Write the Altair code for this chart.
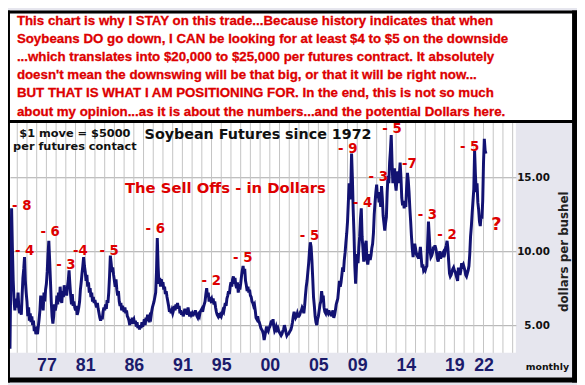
import altair as alt
import pandas as pd

# ---------------- data ----------------
first_year = 1973
first_month = 4  # series starts April 1973
price_rows = [
    [3.4, 8.0, 12.9, 10.2, 8.0, 6.7, 6.0, 6.8, 6.2],                    # 1973 (Apr-Dec)
    [6.4, 7.2, 6.1, 5.8, 6.3, 5.7, 7.0, 8.2, 8.8, 9.6, 8.0, 7.2],       # 1974
    [6.6, 5.6, 6.2, 5.3, 5.8, 5.2, 5.6, 5.0, 5.3, 4.6, 4.9, 4.4],       # 1975
    [4.6, 4.4, 4.9, 5.4, 6.0, 7.0, 6.2, 6.8, 6.0, 7.2, 6.6, 7.4],       # 1976
    [7.8, 8.6, 9.8, 10.7, 9.4, 8.0, 6.6, 5.6, 5.1, 5.6, 6.4, 6.0],      # 1977
    [6.3, 7.0, 6.4, 7.2, 6.6, 7.6, 6.8, 6.5, 7.3, 6.9, 7.7, 7.2],       # 1978
    [7.4, 7.0, 7.6, 8.0, 8.7, 7.8, 7.0, 6.4, 7.1, 6.3, 6.6, 6.2],       # 1979
    [6.0, 6.3, 5.7, 5.9, 6.2, 6.6, 7.4, 7.9, 8.5, 9.0, 9.6, 9.0],       # 1980
    [8.6, 8.0, 8.4, 7.6, 7.9, 7.2, 7.5, 6.9, 7.2, 6.6, 6.9, 6.5],       # 1981
    [6.7, 6.4, 6.2, 6.5, 6.1, 5.8, 5.5, 5.3, 5.6, 5.4, 5.9, 6.2],       # 1982
    [6.0, 6.4, 6.1, 6.7, 6.5, 7.2, 8.3, 9.7, 9.2, 8.6, 8.9, 8.4],       # 1983
    [8.0, 7.6, 8.1, 7.4, 7.0, 7.3, 6.6, 6.3, 6.5, 6.0, 6.3, 6.1],       # 1984
    [5.9, 6.2, 5.8, 6.0, 5.6, 5.5, 5.3, 5.0, 5.4, 5.1, 5.5, 5.3],       # 1985
    [5.4, 5.1, 5.3, 4.9, 5.2, 4.8, 5.0, 4.7, 5.0, 4.8, 5.2, 4.9],       # 1986
    [5.1, 5.4, 5.0, 5.5, 5.3, 5.7, 5.4, 5.2, 5.6, 5.5, 5.9, 6.2],       # 1987
    [6.4, 6.6, 6.9, 7.2, 8.6, 10.9, 9.0, 7.8, 8.2, 7.6, 8.1, 7.7],      # 1988
    [7.9, 7.4, 7.6, 7.1, 7.3, 6.9, 6.6, 6.3, 5.9, 6.1, 5.8, 6.0],       # 1989
    [5.8, 6.0, 6.3, 6.0, 6.4, 6.2, 6.5, 6.1, 6.3, 5.8, 6.0, 5.7],       # 1990
    [5.9, 5.6, 5.8, 6.1, 5.8, 6.0, 5.7, 6.2, 5.8, 5.6, 5.9, 5.7],       # 1991
    [5.8, 5.6, 5.9, 5.7, 6.0, 5.8, 5.6, 5.5, 5.7, 5.6, 5.9, 6.0],       # 1992
    [6.1, 5.9, 6.2, 6.4, 6.6, 7.1, 7.5, 6.9, 7.2, 6.6, 6.9, 6.7],       # 1993
    [6.8, 6.5, 6.8, 6.4, 6.6, 6.2, 5.9, 5.7, 5.6, 5.8, 5.5, 5.7],       # 1994
    [5.6, 5.8, 6.0, 5.9, 6.2, 6.5, 6.3, 6.8, 7.0, 7.3, 7.1, 7.6],       # 1995
    [7.9, 7.6, 8.1, 8.3, 7.8, 8.2, 7.7, 7.5, 7.9, 7.2, 7.6, 7.4],       # 1996
    [7.8, 8.3, 8.7, 9.0, 8.5, 8.8, 8.0, 7.7, 7.3, 7.6, 7.2, 7.4],       # 1997
    [7.0, 6.9, 6.6, 6.5, 6.3, 6.4, 6.0, 5.5, 5.4, 5.6, 5.3, 5.2],       # 1998
    [5.0, 4.8, 4.7, 4.6, 4.4, 4.0, 4.3, 4.6, 4.9, 4.7, 4.6, 4.8],       # 1999
    [4.9, 5.1, 5.3, 5.0, 5.4, 4.9, 4.6, 4.7, 4.9, 4.7, 4.8, 4.6],       # 2000
    [4.5, 4.4, 4.3, 4.4, 4.6, 4.7, 5.0, 4.8, 4.5, 4.3, 4.4, 4.4],       # 2001
    [4.5, 4.6, 4.7, 4.9, 5.2, 5.6, 5.9, 5.7, 5.5, 5.6, 5.8, 5.6],       # 2002
    [5.6, 5.7, 5.9, 6.0, 6.2, 6.1, 5.8, 6.3, 7.0, 7.6, 8.0, 8.6],       # 2003
    [9.2, 10.0, 10.6, 10.3, 9.4, 8.2, 6.9, 6.3, 5.6, 5.2, 5.0, 5.4],    # 2004
    [5.6, 6.0, 6.4, 6.6, 7.3, 6.8, 7.0, 6.2, 5.9, 5.8, 6.1, 5.9],       # 2005
    [5.8, 6.0, 5.7, 5.9, 5.6, 5.8, 6.0, 5.5, 5.7, 6.0, 6.4, 6.6],       # 2006
    [6.8, 7.4, 8.0, 7.6, 7.9, 8.4, 8.9, 8.6, 9.4, 9.9, 10.6, 11.2],     # 2007
    [12.0, 13.3, 14.6, 13.5, 14.2, 16.6, 15.0, 12.8, 11.2, 9.0, 7.8, 8.9],  # 2008
    [9.8, 9.2, 10.3, 11.0, 12.2, 12.9, 11.0, 10.2, 9.3, 9.8, 10.4, 10.7],   # 2009
    [9.4, 9.1, 9.5, 9.8, 9.4, 9.7, 10.2, 10.5, 11.2, 12.5, 13.3, 14.0],     # 2010
    [14.5, 13.6, 14.0, 13.3, 13.6, 13.0, 14.4, 13.6, 12.4, 11.9, 11.4, 11.9],  # 2011
    [12.3, 14.0, 15.1, 14.6, 16.0, 16.8, 17.85, 16.0, 14.6, 15.2, 15.6, 14.6],  # 2012
    [14.1, 14.8, 15.4, 14.6, 15.2, 16.0, 15.0, 13.6, 13.1, 13.4, 12.9, 13.2],   # 2013
    [13.0, 14.3, 15.3, 14.8, 14.0, 12.9, 12.0, 11.0, 10.2, 9.6, 10.3, 10.5],    # 2014
    [10.2, 9.8, 9.7, 9.9, 9.5, 9.8, 10.3, 9.6, 8.9, 9.1, 8.7, 8.8],      # 2015
    [8.7, 8.9, 9.0, 10.6, 12.0, 11.0, 10.0, 9.6, 9.7, 9.9, 10.3, 10.1],  # 2016
    [10.4, 10.2, 9.9, 9.5, 9.3, 9.6, 10.0, 9.5, 9.7, 9.8, 9.9, 9.6],     # 2017
    [9.8, 10.2, 10.4, 10.7, 10.2, 9.3, 8.5, 8.3, 8.4, 8.6, 8.8, 8.9],    # 2018
    [8.7, 8.6, 8.4, 8.2, 8.0, 8.9, 8.6, 8.4, 8.7, 9.2, 9.0, 9.1],        # 2019
    [8.9, 8.7, 8.4, 8.3, 8.5, 8.7, 9.0, 9.8, 11.0, 11.7, 12.6, 13.4],    # 2020
    [14.2, 16.8, 15.2, 14.0, 14.6, 13.3, 12.8, 12.0, 11.7, 12.4, 12.2, 13.4],  # 2021
    [16.0, 17.6, 16.8, 16.6],                                            # 2022
]

tick_years = [1977, 1981, 1986, 1991, 1995, 2000, 2005, 2009, 2014, 2019, 2022]
grid_years = list(range(1974, 2026))
price_ticks = [5, 10, 15]

selloff_text = ["- 8", "- 4", "- 6", "- 3", "-4", "- 5", "- 6", "- 2", "- 5",
                "- 5", "- 9", "- 4", "- 3", "- 5", "-7", "- 3", "- 2", "- 5"]
selloff_t = [1973.46, 1973.76, 1976.39, 1978.01, 1979.73, 1982.46, 1987.21, 1992.98, 1996.21,
             2003.09, 2007.03, 2008.55, 2010.16, 2011.58, 2013.6, 2015.22, 2017.24, 2019.57]
selloff_p = [13.07, 10.0, 11.27, 9.07, 10.0, 10.0, 11.53, 8.0, 9.53,
             11.0, 16.93, 13.27, 15.0, 18.27, 15.87, 12.47, 11.07, 17.07]

chart_title = "Soybean Futures since 1972"
title_t, title_p = 1987.11, 17.87
note_lines = ["$1 move = $5000", "per futures contact"]
note_t = [1979.93, 1979.93]
note_p = [17.93, 17.07]
selloff_heading = "The Sell Offs - in Dollars"
heading_t, heading_p = 1985.09, 14.27
question_t, question_p = 2022.8, 11.8

paragraph = [
    "This chart is why I STAY on this trade...Because history indicates that when",
    "Soybeans DO go down, I CAN be looking for at least $4 to $5 on the downside",
    "...which translates into $20,000 to $25,000 per futures contract. It absolutely",
    "doesn't mean the downswing will be that big, or that it will be right now...",
    "BUT THAT IS WHAT I AM POSITIONING FOR. In the end, this is not so much",
    "about my opinion...as it is about the numbers...and the potential Dollars here.",
]

# ---------------- build table ----------------
t_vals, p_vals = [], []
for i, row in enumerate(price_rows):
    m0 = (first_month - 1) if i == 0 else 0
    for j, v in enumerate(row):
        t_vals.append(first_year + i + (m0 + j) / 12.0)
        p_vals.append(v)
df = pd.DataFrame({"t": t_vals, "p": p_vals})

RED = "#dd0000"
NAVY = "#121272"
W, H = 513, 233

x_scale = alt.Scale(domain=[1973.25, 2025.33], nice=False, zero=False)
y_scale = alt.Scale(domain=[3.13, 18.67], nice=False, zero=False)

x_axis = alt.Axis(values=tick_years, labelExpr="substring(toString(datum.value), 2)",
                  grid=False, ticks=False, domain=False, title="",
                  labelFont="Liberation Sans", labelFontSize=18, labelFontWeight="bold",
                  labelColor="#1b1b6b", labelPadding=4, labelOverlap=False)
y_axis = alt.Axis(orient="right", values=price_ticks, format=".2f", grid=True,
                  gridColor="#a9a9a9", gridWidth=1, ticks=False, domain=False,
                  labelFont="DejaVu Sans", labelFontSize=10.5, labelFontWeight="bold",
                  labelColor="#111111", labelAlign="right", labelBaseline="middle",
                  labelPadding=34, title="dollars per bushel", titleFont="DejaVu Sans",
                  titleFontSize=12, titleFontWeight="bold", titleColor="#222222",
                  titleAngle=270, titleX=48, titleY=130, titleAlign="center",
                  titleBaseline="middle")

X = alt.X("t:Q", scale=x_scale, axis=x_axis)
Y = alt.Y("p:Q", scale=y_scale, axis=y_axis)

vgrid = alt.Chart(pd.DataFrame({"t": grid_years})).mark_rule(
    color="#c4c4c4", strokeWidth=1).encode(x=X)

line = alt.Chart(df).mark_line(color=NAVY, strokeWidth=3, strokeJoin="miter").encode(x=X, y=Y)

sell = alt.Chart(pd.DataFrame({"t": selloff_t, "p": selloff_p, "s": selloff_text})).mark_text(
    align="left", baseline="middle", font="DejaVu Sans", fontSize=13.5,
    fontWeight="bold", color=RED).encode(x=X, y=Y, text="s:N")

title_layer = alt.Chart(pd.DataFrame({"t": [title_t], "p": [title_p], "s": [chart_title]})).mark_text(
    align="left", baseline="middle", font="DejaVu Sans", fontSize=14.5,
    fontWeight="bold", color="#111111").encode(x=X, y=Y, text="s:N")

note_layer = alt.Chart(pd.DataFrame({"t": note_t, "p": note_p, "s": note_lines})).mark_text(
    align="center", baseline="middle", font="DejaVu Sans", fontSize=11.5,
    fontWeight="bold", color="#111111").encode(x=X, y=Y, text="s:N")

heading_layer = alt.Chart(pd.DataFrame({"t": [heading_t], "p": [heading_p], "s": [selloff_heading]})).mark_text(
    align="left", baseline="middle", font="DejaVu Sans", fontSize=15,
    fontWeight="bold", color=RED).encode(x=X, y=Y, text="s:N")

question_layer = alt.Chart(pd.DataFrame({"t": [question_t], "p": [question_p], "s": ["?"]})).mark_text(
    align="left", baseline="middle", font="DejaVu Sans", fontSize=18,
    fontWeight="bold", color=RED).encode(x=X, y=Y, text="s:N")

one = pd.DataFrame({"a": [0]})


def block(x0, x1, y0, y1, color):
    return alt.Chart(one).mark_rect(color=color).encode(
        x=alt.value(x0), x2=alt.value(x1), y=alt.value(y0), y2=alt.value(y1))


frames = [
    block(0, 570, -111, -3, "white"),      # text box
    block(-2, 0, -114, 263, "black"),      # left border
    block(570, 575, -114, 263, "black"),   # right border
    block(-2, 575, -114, -111, "black"),   # top border
    block(-2, 575, -3, 0, "black"),        # separator
    block(-2, 575, 258, 263, "black"),     # bottom border
]

para_layer = alt.Chart(one).mark_text(
    align="left", baseline="alphabetic", font="Liberation Sans", fontSize=13.5,
    fontWeight="bold", color=RED, stroke=RED, strokeWidth=0.3, lineHeight=18.4).encode(
    x=alt.value(7), y=alt.value(-99.5), text=alt.value(paragraph))

monthly_layer = alt.Chart(one).mark_text(
    align="left", baseline="middle", font="DejaVu Sans", fontSize=9.5,
    fontWeight="bold", color="#111111").encode(
    x=alt.value(523), y=alt.value(247), text=alt.value("monthly"))

chart = alt.layer(
    vgrid, line, sell, title_layer, note_layer, heading_layer, question_layer,
    *frames, para_layer, monthly_layer
).properties(
    width=W, height=H,
    padding={"left": 2, "top": 114, "right": 62, "bottom": 30},
    autosize=alt.AutoSizeParams(type="none"),
).configure(background="#e6e6ee").configure_view(fill="white", strokeWidth=0)

chart.save("out.html", embed_options={"renderer": "svg", "actions": False})
